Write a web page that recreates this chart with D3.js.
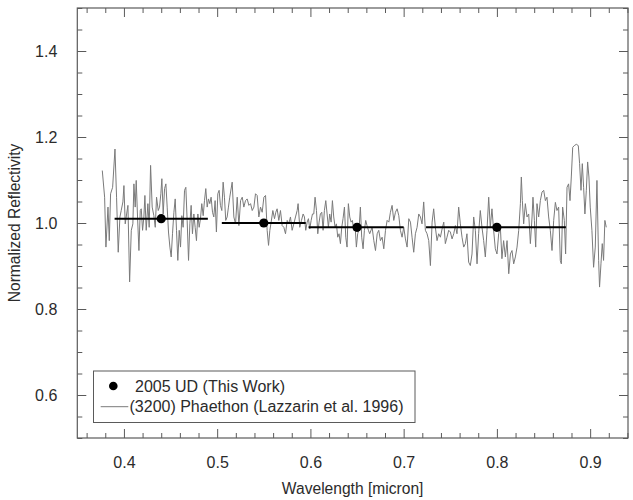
<!DOCTYPE html>
<html><head><meta charset="utf-8">
<script src="https://cdn.jsdelivr.net/npm/d3@7"></script>
<style>body{margin:0;background:#fff}svg{display:block}</style>
</head><body>
<svg id="c" width="633" height="500"></svg>
<script>
// ---------- data ----------
const xTicks = [0.4, 0.5, 0.6, 0.7, 0.8, 0.9];
const yTicks = [0.6, 0.8, 1.0, 1.2, 1.4];
const filterWl = [0.44, 0.55, 0.65, 0.80];
const udRefl = [1.01, 1.00, 0.99, 0.99];
const bandLo = [0.39, 0.505, 0.598, 0.724];
const bandHi = [0.49, 0.595, 0.70, 0.874];
const legendLabels = ["2005 UD (This Work)", "(3200) Phaethon (Lazzarin et al. 1996)"];
const xTitle = "Wavelength [micron]";
const yTitle = "Normalized Reflectivity";
// [wavelength (micron), normalized reflectance]
const phaethon = [
[0.3768,1.122],[0.3793,1.060],[0.3807,0.944],[0.3829,1.037],[0.3843,0.959],[0.3857,1.068],[0.3879,1.083],[0.3904,1.172],[0.3921,1.060],[0.3939,0.932],
[0.3957,1.014],[0.3971,1.029],[0.3989,1.049],[0.4000,1.087],[0.4014,0.998],[0.4029,1.021],[0.4043,1.041],[0.4061,0.863],[0.4079,0.983],[0.4096,0.998],
[0.4107,1.091],[0.4121,1.037],[0.4132,1.099],[0.4146,1.014],[0.4161,0.936],[0.4175,1.029],[0.4186,1.033],[0.4200,0.983],[0.4214,1.014],[0.4225,1.064],
[0.4239,0.983],[0.4257,1.045],[0.4271,0.990],[0.4286,1.134],[0.4303,1.037],[0.4321,1.017],[0.4336,0.990],[0.4350,1.060],[0.4368,1.029],[0.4382,1.037],
[0.4396,1.068],[0.4407,1.103],[0.4421,1.021],[0.4436,1.080],[0.4450,1.091],[0.4464,1.037],[0.4478,0.979],[0.4493,0.944],[0.4507,0.921],[0.4521,0.975],
[0.4536,1.025],[0.4550,1.056],[0.4564,0.983],[0.4578,0.913],[0.4593,0.983],[0.4607,0.944],[0.4621,1.017],[0.4635,0.990],[0.4650,1.076],[0.4664,1.083],
[0.4678,1.006],[0.4693,0.913],[0.4707,0.998],[0.4721,1.041],[0.4735,0.975],[0.4750,1.021],[0.4764,0.990],[0.4778,0.959],[0.4793,1.021],[0.4807,0.990],
[0.4821,1.010],[0.4835,1.045],[0.4850,1.017],[0.4864,1.052],[0.4878,1.080],[0.4893,1.037],[0.4907,1.056],[0.4921,1.045],[0.4935,1.060],[0.4950,1.025],
[0.4964,1.014],[0.4978,1.052],[0.4992,0.979],[0.5007,1.068],[0.5021,1.076],[0.5035,1.041],[0.5050,1.029],[0.5064,1.095],[0.5078,1.060],[0.5092,1.006],
[0.5107,1.014],[0.5121,1.037],[0.5135,1.060],
[0.5161,1.095],[0.5179,1.014],[0.5197,0.998],[0.5215,1.060],[0.5233,0.994],[0.5251,1.052],[0.5269,1.060],[0.5286,1.037],[0.5304,1.052],[0.5322,1.056],
[0.5340,1.041],[0.5358,1.045],[0.5376,1.029],[0.5394,1.037],[0.5411,1.068],[0.5429,1.064],[0.5447,1.014],[0.5465,1.037],[0.5483,1.025],[0.5501,1.060],
[0.5519,1.064],[0.5536,0.983],[0.5551,0.948],[0.5565,0.983],[0.5579,1.002],[0.5597,1.029],[0.5615,1.010],[0.5629,1.025],[0.5643,1.033],[0.5661,1.006],
[0.5679,1.029],[0.5697,0.994],[0.5715,0.990],[0.5733,0.975],[0.5751,1.006],[0.5768,0.998],[0.5786,1.014],[0.5804,0.983],[0.5822,0.998],[0.5840,1.014],
[0.5858,1.029],[0.5868,1.045],[0.5886,0.990],[0.5904,1.006],[0.5922,1.021],[0.5936,1.014],[0.5950,0.983],[0.5965,1.002],[0.5979,1.010],[0.5993,0.986],
[0.6008,1.006],[0.6022,1.021],[0.6036,1.021],[0.6050,1.060],[0.6065,1.029],[0.6079,0.975],[0.6093,1.002],[0.6107,1.021],[0.6122,1.025],[0.6136,0.983],
[0.6150,1.029],[0.6165,1.052],[0.6179,1.021],[0.6193,0.990],[0.6207,1.021],[0.6222,1.002],[0.6236,1.052],[0.6250,1.014],[0.6265,0.990],[0.6279,0.998],
[0.6293,0.967],[0.6307,0.975],[0.6322,0.952],[0.6336,0.990],[0.6350,1.010],[0.6365,1.037],[0.6379,0.967],[0.6393,0.944],[0.6407,1.045],[0.6422,1.014],
[0.6436,1.002],[0.6450,1.006],[0.6465,0.983],[0.6479,0.994],[0.6493,0.944],[0.6507,0.975],[0.6522,0.986],[0.6536,1.037],[0.6550,0.967],[0.6565,0.940],
[0.6579,0.983],[0.6593,1.006],[0.6607,0.994],[0.6622,0.983],[0.6636,0.975],
[0.6662,0.990],[0.6680,0.959],[0.6698,0.936],[0.6716,0.975],[0.6733,0.983],[0.6751,0.959],[0.6769,0.967],[0.6787,0.940],[0.6805,0.983],[0.6823,1.006],
[0.6841,1.002],[0.6858,1.025],[0.6876,1.041],[0.6894,1.006],[0.6912,1.025],[0.6930,1.033],[0.6948,1.017],[0.6965,0.983],[0.6983,0.967],[0.7001,0.990],
[0.7019,0.963],[0.7037,0.944],[0.7055,1.010],[0.7073,1.002],[0.7090,0.967],[0.7108,0.932],[0.7126,0.975],[0.7144,0.990],[0.7162,1.021],[0.7180,1.014],
[0.7197,0.998],[0.7215,1.049],[0.7233,0.983],[0.7251,0.975],[0.7269,0.959],[0.7287,0.901],[0.7305,1.002],[0.7322,1.033],[0.7340,0.990],[0.7358,0.959],
[0.7376,0.975],[0.7394,0.967],[0.7412,0.986],[0.7430,1.002],[0.7447,0.952],[0.7465,0.967],[0.7483,0.983],[0.7501,0.979],[0.7519,0.963],[0.7537,0.975],
[0.7555,0.994],[0.7572,0.975],[0.7590,1.037],[0.7608,0.998],[0.7626,0.967],[0.7644,0.944],[0.7662,0.952],[0.7679,0.975],[0.7697,0.909],[0.7715,0.901],
[0.7733,0.928],[0.7751,1.014],[0.7769,0.983],[0.7787,0.905],[0.7804,0.975],[0.7822,1.029],[0.7840,0.990],[0.7858,0.959],[0.7876,0.921],[0.7894,0.983],
[0.7912,1.060],[0.7929,0.990],[0.7947,1.033],[0.7965,0.983],[0.7983,0.940],[0.8001,0.928],[0.8019,0.975],[0.8037,0.990],[0.8054,0.917],[0.8072,0.959],
[0.8091,0.921],[0.8109,0.959],[0.8127,0.882],[0.8145,0.928],[0.8162,0.936],[0.8180,0.905],[0.8198,0.921],[0.8216,0.944],[0.8234,0.983],[0.8252,1.045],
[0.8262,1.107],[0.8273,1.052],[0.8287,0.998],[0.8305,1.045],[0.8323,1.014],[0.8341,1.021],[0.8359,0.952],[0.8377,1.014],[0.8387,1.060],[0.8402,1.006],
[0.8416,0.944],[0.8430,1.045],[0.8448,1.014],[0.8466,1.052],[0.8484,1.072],[0.8502,1.076],[0.8520,1.052],[0.8537,1.060],[0.8555,1.014],[0.8573,0.983],
[0.8591,0.936],[0.8609,1.006],[0.8627,1.048],[0.8644,1.029],[0.8662,1.037],[0.8680,0.913],[0.8691,0.905],[0.8705,1.037],[0.8723,1.006],[0.8737,0.928],
[0.8752,1.083],[0.8769,1.091],[0.8784,1.052],[0.8798,1.107],[0.8813,1.176],[0.8830,1.180],[0.8852,1.183],[0.8873,1.180],[0.8887,1.138],[0.8902,1.076],
[0.8916,1.138],[0.8930,1.083],[0.8944,1.021],[0.8959,1.076],[0.8973,1.142],[0.8987,1.107],[0.9001,1.037],[0.9019,0.983],[0.9037,0.897],[0.9055,0.944],
[0.9073,1.099],[0.9091,0.913],[0.9101,0.851],[0.9116,0.905],[0.9130,0.952],[0.9144,0.913],[0.9158,1.006],[0.9173,0.990]
];

// ---------- layout ----------
const FONT = "'Liberation Sans', Arial, Helvetica, sans-serif";
const FRAME = "#5a5a5a", TEXT = "#2b2b2b";
const m = {l: 77.3, r: 628, t: 8, b: 438};
const x = d3.scaleLinear().domain([0.35, 0.9406]).range([m.l, m.r]);
const y = d3.scaleLinear().domain([0.5, 1.5]).range([m.b, m.t]);

const svg = d3.select("#c");
svg.append("rect").attr("width", 633).attr("height", 500).attr("fill", "#fff");

const xMinor = d3.range(18, 48).filter(i => i % 5 !== 0).map(i => i * 0.02);
const yMinor = d3.range(10, 31).filter(i => i % 4 !== 0).map(i => i * 0.05);

function styleAxis(g) {
  g.select(".domain").remove();
  g.selectAll("line").attr("stroke", FRAME).attr("stroke-width", 1);
  g.selectAll("text").attr("fill", TEXT).style("font-family", FONT).style("font-size", "16px");
  g.attr("font-family", null).attr("font-size", null);
}

// bottom
svg.append("g").attr("transform", `translate(0,${m.b})`)
  .call(d3.axisBottom(x).tickValues(xTicks).tickSize(-9).tickPadding(19).tickFormat(d3.format(".1f"))).call(styleAxis);
svg.append("g").attr("transform", `translate(0,${m.b})`)
  .call(d3.axisBottom(x).tickValues(xMinor).tickSize(-5).tickFormat("")).call(styleAxis);
// top
svg.append("g").attr("transform", `translate(0,${m.t})`)
  .call(d3.axisTop(x).tickValues(xTicks).tickSize(-9).tickFormat("")).call(styleAxis);
svg.append("g").attr("transform", `translate(0,${m.t})`)
  .call(d3.axisTop(x).tickValues(xMinor).tickSize(-5).tickFormat("")).call(styleAxis);
// left
svg.append("g").attr("transform", `translate(${m.l},0)`)
  .call(d3.axisLeft(y).tickValues(yTicks).tickSize(-9).tickPadding(20).tickFormat(d3.format(".1f"))).call(styleAxis);
svg.append("g").attr("transform", `translate(${m.l},0)`)
  .call(d3.axisLeft(y).tickValues(yMinor).tickSize(-5).tickFormat("")).call(styleAxis);
// right
svg.append("g").attr("transform", `translate(${m.r},0)`)
  .call(d3.axisRight(y).tickValues(yTicks).tickSize(-9).tickFormat("")).call(styleAxis);
svg.append("g").attr("transform", `translate(${m.r},0)`)
  .call(d3.axisRight(y).tickValues(yMinor).tickSize(-5).tickFormat("")).call(styleAxis);

// frame
svg.append("rect").attr("x", m.l).attr("y", m.t).attr("width", m.r - m.l).attr("height", m.b - m.t)
  .attr("fill", "none").attr("stroke", FRAME).attr("stroke-width", 1.2);

// titles
svg.append("text").attr("x", (m.l + m.r) / 2).attr("y", 494).attr("text-anchor", "middle")
  .style("font-family", FONT).style("font-size", "15.6px").attr("fill", TEXT).text(xTitle);
svg.append("text").attr("transform", `translate(20,${(m.t + m.b) / 2}) rotate(-90)`).attr("text-anchor", "middle")
  .style("font-family", FONT).style("font-size", "15.6px").attr("fill", TEXT).text(yTitle);

// spectrum
svg.append("clipPath").attr("id", "clip").append("rect")
  .attr("x", m.l).attr("y", m.t).attr("width", m.r - m.l).attr("height", m.b - m.t);
const line = d3.line().x(d => x(d[0])).y(d => y(d[1]));
svg.append("path").datum(phaethon).attr("clip-path", "url(#clip)")
  .attr("d", line).attr("fill", "none").attr("stroke", "#7a7a7a").attr("stroke-width", 1)
  .attr("stroke-linejoin", "round");

// 2005 UD points with band widths
const ud = filterWl.map((w, i) => ({w, r: udRefl[i], lo: bandLo[i], hi: bandHi[i]}));
svg.append("g").selectAll("line").data(ud).join("line")
  .attr("x1", d => x(d.lo)).attr("x2", d => x(d.hi))
  .attr("y1", d => y(d.r)).attr("y2", d => y(d.r))
  .attr("stroke", "#000").attr("stroke-width", 2);
svg.append("g").selectAll("circle").data(ud).join("circle")
  .attr("cx", d => x(d.w)).attr("cy", d => y(d.r)).attr("r", 4.6).attr("fill", "#000");

// legend
const lg = svg.append("g");
lg.append("rect").attr("x", 93.5).attr("y", 371).attr("width", 321.5).attr("height", 51.5)
  .attr("fill", "#fff").attr("stroke", FRAME).attr("stroke-width", 1);
lg.append("circle").attr("cx", 113.3).attr("cy", 386).attr("r", 4.3).attr("fill", "#000");
lg.append("text").attr("x", 135).attr("y", 391.8).style("font-family", FONT).style("font-size", "16px")
  .attr("fill", TEXT).text(legendLabels[0]);
lg.append("line").attr("x1", 100.7).attr("x2", 128.3).attr("y1", 406.7).attr("y2", 406.7)
  .attr("stroke", "#7a7a7a").attr("stroke-width", 1);
lg.append("text").attr("x", 129.5).attr("y", 412.2).style("font-family", FONT).style("font-size", "16px")
  .attr("fill", TEXT).text(legendLabels[1]);
</script>
</body></html>
